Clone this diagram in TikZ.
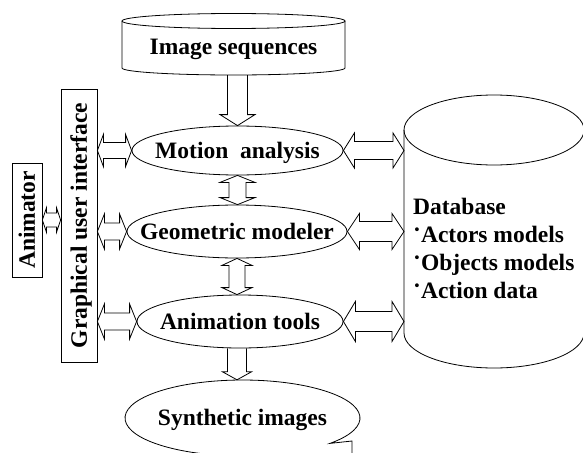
\documentclass[tikz,border=0pt]{standalone}
\usepackage{fontspec}
\setmainfont{Liberation Serif}
\usetikzlibrary{shapes.geometric,calc}
\newcommand{\hdbl}[5]{\path[blk] let \p1=(#1), \p2=(#2) in (\x1,\y1) -- (\x1+#5,\y1+#4) -- (\x1+#5,\y1+#3) -- (\x2-#5,\y1+#3) -- (\x2-#5,\y1+#4) -- (\x2,\y1) -- (\x2-#5,\y1-#4) -- (\x2-#5,\y1-#3) -- (\x1+#5,\y1-#3) -- (\x1+#5,\y1-#4) -- cycle;}
\newcommand{\vdbl}[5]{\path[blk] let \p1=(#1), \p2=(#2) in (\x1,\y1) -- (\x1+#4,\y1-#5) -- (\x1+#3,\y1-#5) -- (\x1+#3,\y2+#5) -- (\x1+#4,\y2+#5) -- (\x1,\y2) -- (\x1-#4,\y2+#5) -- (\x1-#3,\y2+#5) -- (\x1-#3,\y1-#5) -- (\x1-#4,\y1-#5) -- cycle;}
\newcommand{\vsgl}[5]{\path[blk] let \p1=(#1), \p2=(#2) in (\x1-#3,\y1) -- (\x1-#3,\y2+#5) -- (\x1-#4,\y2+#5) -- (\x1,\y2) -- (\x1+#4,\y2+#5) -- (\x1+#3,\y2+#5) -- (\x1+#3,\y1);}
\begin{document}
\begin{tikzpicture}[x=1pt,y=-1pt,
  lbl/.style={font=\bfseries\fontsize{23.5}{28}\selectfont, inner sep=0pt, text height=15.5pt, text depth=0pt},
  ell/.style={lbl, ellipse, draw, line width=0.8pt},
  box/.style={lbl, draw, line width=0.8pt, rotate=90},
  outline/.style={draw, line width=0.8pt},
  blk/.style={draw, line width=0.8pt, line join=miter}]
\useasboundingbox (0,0) rectangle (583,452);
\clip (0,0) rectangle (583,452);

% top cylinder
\draw[outline] (233.5,21) ellipse [x radius=111.5, y radius=7.5];
\draw[outline] (122,21) -- (122,68) arc[start angle=180, end angle=0, x radius=111.5, y radius=7] -- (345,21);
\node[lbl] (img) at (233.5,47.25) {Image sequences};
\coordinate (imgb) at (237,75);

% database cylinder
\draw[outline] (494,130) ellipse [x radius=90, y radius=35];
\draw[outline] (404,130) -- (404,333) arc[start angle=180, end angle=0, x radius=90, y radius=35] -- (584,130);
\coordinate (dbw) at (404,130);
\node[lbl, text height=, text depth=, align=left, anchor=north west] (dbt) at (413,198)
  {Database\\\raisebox{.2em}{·}Actors models\\\raisebox{.2em}{·}Objects models\\\raisebox{.2em}{·}Action data};

% ellipses
\node[ell, minimum width=211, minimum height=49] (mot) at (237.5,150.5) {\makebox[0pt]{Motion\ \ analysis}};
\node[ell, minimum width=220, minimum height=53] (geo) at (237,231.5) {\makebox[0pt]{Geometric modeler}};
\node[ell, minimum width=206, minimum height=53] (ani) at (240,321.5) {\makebox[0pt]{Animation tools}};
\node[lbl, ellipse, minimum width=235, minimum height=76] (syn) at (242.5,418) {\makebox[0pt]{Synthetic images}};
\draw[outline] (352,460) -- (352,441) -- (329.96,443.38) arc[start angle=41.9, end angle=-270, x radius=117.5, y radius=38];

% side boxes
\node[box, minimum width=273, minimum height=36] (gui) at (79,225.5) {Graphical user interface};
\node[box, minimum width=114, minimum height=30] (anim) at (27,220) {Animator};

% block arrows
\vsgl{mot.north |- imgb}{mot.north}{10pt}{17.5pt}{11pt}
\vdbl{mot.south}{geo.north}{8.5pt}{17.5pt}{7pt}
\vdbl{geo.south}{geo.south |- ani.north}{8pt}{15pt}{7pt}
\vsgl{geo.south |- ani.south}{geo.south |- syn.north}{9.5pt}{14.5pt}{8pt}

\hdbl{anim.south}{gui.north |- anim.south}{7pt}{12pt}{4pt}
\hdbl{gui.south |- mot}{mot.west}{8pt}{16pt}{6pt}
\hdbl{gui.south |- geo}{geo.west}{8.5pt}{17.5pt}{7pt}
\hdbl{gui.south |- ani}{ani.west}{8.5pt}{17.5pt}{7pt}

\hdbl{mot.east}{dbw |- mot}{9pt}{17.5pt}{11pt}
\hdbl{geo.east}{dbw |- geo}{10pt}{18pt}{12pt}
\hdbl{ani.east}{dbw |- ani}{10pt}{20pt}{12pt}
\end{tikzpicture}
\end{document}
